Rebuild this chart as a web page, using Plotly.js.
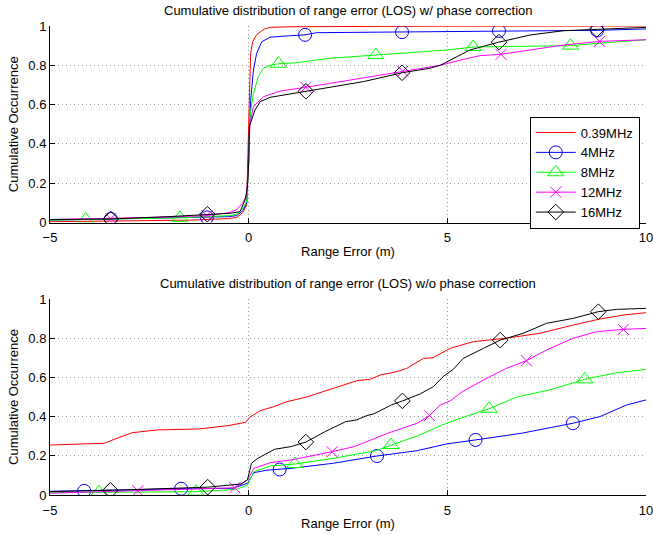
<!DOCTYPE html>
<html>
<head>
<meta charset="utf-8">
<script src="https://cdn.plot.ly/plotly-3.0.1.min.js"></script>
<style>html,body{margin:0;padding:0;background:#fff;}#chart{width:653px;height:535px;}</style>
</head>
<body>
<div id="chart"></div>
<script>
// ---------- labels ----------
const seriesNames = ["0.39MHz", "4MHz", "8MHz", "12MHz", "16MHz"];
const topTitle = "Cumulative distribution of range error (LOS) w/ phase correction";
const bottomTitle = "Cumulative distribution of range error (LOS) w/o phase correction";
const xTitle = "Range Error (m)";
const yTitle = "Cumulative Occurrence";
const xTickVals = [-5, 0, 5, 10];
const yTickVals = [0, 0.2, 0.4, 0.6, 0.8, 1];

// ---------- top: with phase correction ----------
const topRedX = [-5, -3, -1.5, -0.5, -0.3, -0.15, -0.05, 0, 0.05, 0.1, 0.2, 0.29, 0.4, 0.54, 1, 2, 3, 5, 10];
const topRedY = [0.004, 0.007, 0.012, 0.02, 0.026, 0.05, 0.09, 0.5, 0.86, 0.92, 0.955, 0.97, 0.985, 0.993, 0.996, 0.997, 0.998, 0.999, 1.0];

const topBlueX = [-5, -3.47, -2, -1.05, -0.5, -0.3, -0.15, -0.05, 0, 0.05, 0.12, 0.2, 0.33, 0.54, 1.0, 1.42, 1.71, 3, 3.86, 5, 6.3, 7.5, 8.77, 10];
const topBlueY = [0.012, 0.018, 0.022, 0.026, 0.03, 0.035, 0.06, 0.1, 0.35, 0.62, 0.776, 0.86, 0.92, 0.943, 0.95, 0.955, 0.966, 0.968, 0.969, 0.972, 0.975, 0.976, 0.978, 0.985];
const topBlueMX = [-3.47, -1.05, 1.42, 3.86, 6.3, 8.77];
const topBlueMY = [0.018, 0.026, 0.955, 0.969, 0.975, 0.978];

const topGreenX = [-5, -4.1, -3, -1.73, -0.5, -0.3, -0.15, -0.05, 0, 0.03, 0.12, 0.24, 0.37, 0.54, 0.75, 1.21, 2.05, 2.89, 3.2, 4.56, 5.0, 5.65, 6.24, 7.0, 7.92, 8.1, 9.0, 10];
const topGreenY = [0.012, 0.015, 0.019, 0.024, 0.035, 0.042, 0.07, 0.11, 0.3, 0.54, 0.657, 0.742, 0.785, 0.80, 0.808, 0.813, 0.836, 0.847, 0.852, 0.869, 0.878, 0.893, 0.895, 0.896, 0.898, 0.9, 0.915, 0.93];
const topGreenMX = [-4.1, -1.73, 0.75, 3.2, 5.65, 8.1];
const topGreenMY = [0.015, 0.024, 0.808, 0.852, 0.893, 0.9];

const topMagX = [-5, -3.47, -2, -1.05, -0.5, -0.3, -0.15, -0.05, 0, 0.03, 0.12, 0.37, 0.79, 1.44, 2.3, 3.14, 3.88, 4.56, 4.82, 5.4, 5.82, 6.35, 7.08, 7.92, 8.83, 10];
const topMagY = [0.015, 0.02, 0.028, 0.035, 0.05, 0.065, 0.1, 0.14, 0.3, 0.5, 0.59, 0.64, 0.669, 0.688, 0.717, 0.742, 0.77, 0.793, 0.80, 0.83, 0.849, 0.856, 0.878, 0.903, 0.922, 0.93];
const topMagMX = [-3.47, -1.05, 1.44, 3.88, 6.35, 8.83];
const topMagMY = [0.02, 0.035, 0.688, 0.77, 0.856, 0.922];

const topBlackX = [-5, -3.47, -2, -1.04, -0.47, -0.22, -0.09, -0.03, 0, 0.02, 0.16, 0.29, 0.54, 1.04, 1.44, 2.05, 2.89, 3.86, 4.56, 4.82, 5.07, 5.57, 6.3, 7.08, 7.92, 8.76, 10];
const topBlackY = [0.015, 0.018, 0.03, 0.042, 0.047, 0.055, 0.115, 0.18, 0.3, 0.49, 0.573, 0.615, 0.637, 0.654, 0.668, 0.691, 0.717, 0.762, 0.785, 0.80, 0.827, 0.878, 0.918, 0.954, 0.976, 0.982, 0.993];
const topBlackMX = [-3.47, -1.04, 1.44, 3.86, 6.3, 8.76];
const topBlackMY = [0.018, 0.042, 0.668, 0.762, 0.918, 0.982];

// ---------- bottom: without phase correction ----------
const botRedX = [-5, -3.63, -3.31, -2.93, -2.3, -1.25, -0.51, -0.08, 0.02, 0.29, 0.62, 0.96, 1.46, 1.88, 2.3, 2.72, 3.05, 3.31, 3.73, 3.98, 4.4, 4.64, 5.07, 5.65, 6.49, 7.33, 8.17, 8.8, 9.43, 10];
const botRedY = [0.255, 0.264, 0.29, 0.318, 0.332, 0.337, 0.354, 0.371, 0.395, 0.43, 0.45, 0.476, 0.50, 0.527, 0.553, 0.583, 0.59, 0.612, 0.629, 0.646, 0.697, 0.70, 0.748, 0.782, 0.80, 0.825, 0.867, 0.896, 0.918, 0.93];

const botBlueX = [-5, -4.14, -3.14, -1.7, -0.4, -0.03, 0.13, 0.44, 0.78, 1.07, 2.13, 3.23, 4.24, 4.97, 5.71, 6.87, 8.16, 8.84, 9.51, 10];
const botBlueY = [0.019, 0.021, 0.026, 0.032, 0.034, 0.06, 0.114, 0.126, 0.13, 0.136, 0.162, 0.199, 0.226, 0.26, 0.281, 0.315, 0.366, 0.40, 0.459, 0.485];
const botBlueMX = [-4.14, -1.7, 0.78, 3.23, 5.71, 8.16];
const botBlueMY = [0.021, 0.032, 0.13, 0.199, 0.281, 0.366];

const botGreenX = [-5, -3.77, -1.33, -0.3, -0.03, 0.13, 0.55, 1.16, 2.13, 3.18, 3.58, 4.24, 4.87, 5.32, 6.05, 6.75, 7.58, 8.46, 9.18, 10];
const botGreenY = [0.012, 0.014, 0.017, 0.029, 0.051, 0.119, 0.148, 0.158, 0.187, 0.225, 0.255, 0.301, 0.357, 0.391, 0.44, 0.50, 0.536, 0.59, 0.621, 0.641];
const botGreenMX = [-3.77, -1.33, 1.16, 3.58, 6.05, 8.46];
const botGreenMY = [0.014, 0.017, 0.158, 0.255, 0.44, 0.59];

const botMagX = [-5, -2.79, -0.35, -0.03, 0.13, 0.55, 1.07, 2.1, 2.66, 3.5, 4.24, 4.55, 4.82, 5.07, 5.4, 6.07, 6.49, 6.99, 7.5, 8.17, 8.76, 9.43, 10];
const botMagY = [0.009, 0.022, 0.037, 0.077, 0.136, 0.165, 0.179, 0.221, 0.247, 0.315, 0.366, 0.405, 0.459, 0.48, 0.53, 0.604, 0.646, 0.685, 0.74, 0.80, 0.833, 0.845, 0.85];
const botMagMX = [-2.79, -0.35, 2.1, 4.55, 6.99, 9.43];
const botMagMY = [0.022, 0.037, 0.221, 0.405, 0.685, 0.845];

const botBlackX = [-5, -3.48, -3.14, -1.03, -0.19, -0.03, 0.07, 0.23, 0.65, 1.07, 1.44, 1.92, 2.44, 2.72, 2.97, 3.14, 3.6, 3.87, 4.31, 4.65, 4.9, 5.15, 5.4, 5.91, 6.33, 6.91, 7.5, 8.17, 8.8, 9.26, 10];
const botBlackY = [0.017, 0.024, 0.026, 0.04, 0.056, 0.077, 0.162, 0.187, 0.233, 0.247, 0.27, 0.323, 0.374, 0.383, 0.405, 0.413, 0.46, 0.48, 0.515, 0.553, 0.605, 0.641, 0.697, 0.748, 0.79, 0.825, 0.876, 0.901, 0.935, 0.947, 0.952];
const botBlackMX = [-3.48, -1.03, 1.44, 3.87, 6.33, 8.8];
const botBlackMY = [0.024, 0.04, 0.27, 0.48, 0.79, 0.935];

// ---------- styles ----------
const colors = ["#ff0000", "#0000ff", "#00ff00", "#ff00ff", "#000000"];
const symbols = [null, "circle-open", "triangle-up-open", "x-thin-open", "diamond-open"];
const msizes = [0, 13, 14, 11, 12];
const FONT = "Liberation Sans, Arial, Helvetica, sans-serif";
const GRID = "#9a9a9a";

const topSeries = [
  {x: topRedX, y: topRedY},
  {x: topBlueX, y: topBlueY, mx: topBlueMX, my: topBlueMY},
  {x: topGreenX, y: topGreenY, mx: topGreenMX, my: topGreenMY},
  {x: topMagX, y: topMagY, mx: topMagMX, my: topMagMY},
  {x: topBlackX, y: topBlackY, mx: topBlackMX, my: topBlackMY}
];
const botSeries = [
  {x: botRedX, y: botRedY},
  {x: botBlueX, y: botBlueY, mx: botBlueMX, my: botBlueMY},
  {x: botGreenX, y: botGreenY, mx: botGreenMX, my: botGreenMY},
  {x: botMagX, y: botMagY, mx: botMagMX, my: botMagMY},
  {x: botBlackX, y: botBlackY, mx: botBlackMX, my: botBlackMY}
];

function markerDef(i) {
  return {symbol: symbols[i], size: msizes[i], color: colors[i], line: {color: colors[i], width: 1}};
}

const traces = [];
function addSeries(list, xa, ya) {
  list.forEach((s, i) => {
    traces.push({type: "scatter", mode: "lines", x: s.x, y: s.y, xaxis: xa, yaxis: ya,
      line: {color: colors[i], width: 1}, showlegend: false, hoverinfo: "skip"});
    if (s.mx) {
      traces.push({type: "scatter", mode: "markers", x: s.mx, y: s.my, xaxis: xa, yaxis: ya,
        marker: markerDef(i), showlegend: false, hoverinfo: "skip"});
    }
  });
}
addSeries(topSeries, "x", "y");
addSeries(botSeries, "x2", "y2");
// legend entries (line + marker)
seriesNames.forEach((name, i) => {
  const t = {type: "scatter", mode: symbols[i] ? "lines+markers" : "lines", x: [null], y: [null],
    xaxis: "x", yaxis: "y", name: name,
    line: {color: colors[i], width: 1}};
  if (symbols[i]) t.marker = markerDef(i);
  traces.push(t);
});

function xaxisDef(anchor) {
  return {domain: [0, 1], anchor: anchor, range: [-5, 10], tickvals: xTickVals,
    showgrid: true, gridcolor: GRID, griddash: "1px,3px", gridwidth: 1, zeroline: false,
    showline: true, linecolor: "#000", linewidth: 1, ticks: "inside", ticklen: 5, tickcolor: "#000",
    ticklabelstandoff: 3, ticklabeloverflow: "allow",
    tickfont: {family: FONT, size: 13, color: "#000"},
    title: {text: xTitle, font: {family: FONT, size: 13, color: "#000"}, standoff: 2}};
}
function yaxisDef(anchor, dom) {
  return {domain: dom, anchor: anchor, range: [0, 1], tickvals: yTickVals,
    showgrid: true, gridcolor: GRID, griddash: "1px,3px", gridwidth: 1, zeroline: false,
    showline: true, linecolor: "#000", linewidth: 1, ticks: "inside", ticklen: 5, tickcolor: "#000",
    ticklabeloverflow: "allow",
    tickfont: {family: FONT, size: 13, color: "#000"},
    title: {text: yTitle, font: {family: FONT, size: 13, color: "#000"}, standoff: 6}};
}

const layout = {
  width: 653, height: 535,
  margin: {l: 50, r: 7, t: 26, b: 40, pad: 0},
  paper_bgcolor: "#fff", plot_bgcolor: "#fff",
  font: {family: FONT, size: 13, color: "#000"},
  xaxis: xaxisDef("y"),
  yaxis: yaxisDef("x", [0.581, 1]),
  xaxis2: xaxisDef("y2"),
  yaxis2: yaxisDef("x2", [0, 0.418]),
  showlegend: true,
  legend: {x: 0.805, xanchor: "left", y: 0.6876, yanchor: "middle", bgcolor: "#fff",
    bordercolor: "#000", borderwidth: 1, itemwidth: 40, tracegroupgap: 0,
    font: {family: FONT, size: 13, color: "#000"}},
  annotations: [
    {text: topTitle, xref: "paper", yref: "paper", x: 0.5, y: 1.034, xanchor: "center", yanchor: "middle", showarrow: false, font: {family: FONT, size: 13, color: "#000"}},
    {text: bottomTitle, xref: "paper", yref: "paper", x: 0.5, y: 0.4499, xanchor: "center", yanchor: "middle", showarrow: false, font: {family: FONT, size: 13, color: "#000"}}
  ]
};

Plotly.newPlot("chart", traces, layout, {displayModeBar: false, staticPlot: true});
</script>
</body>
</html>
